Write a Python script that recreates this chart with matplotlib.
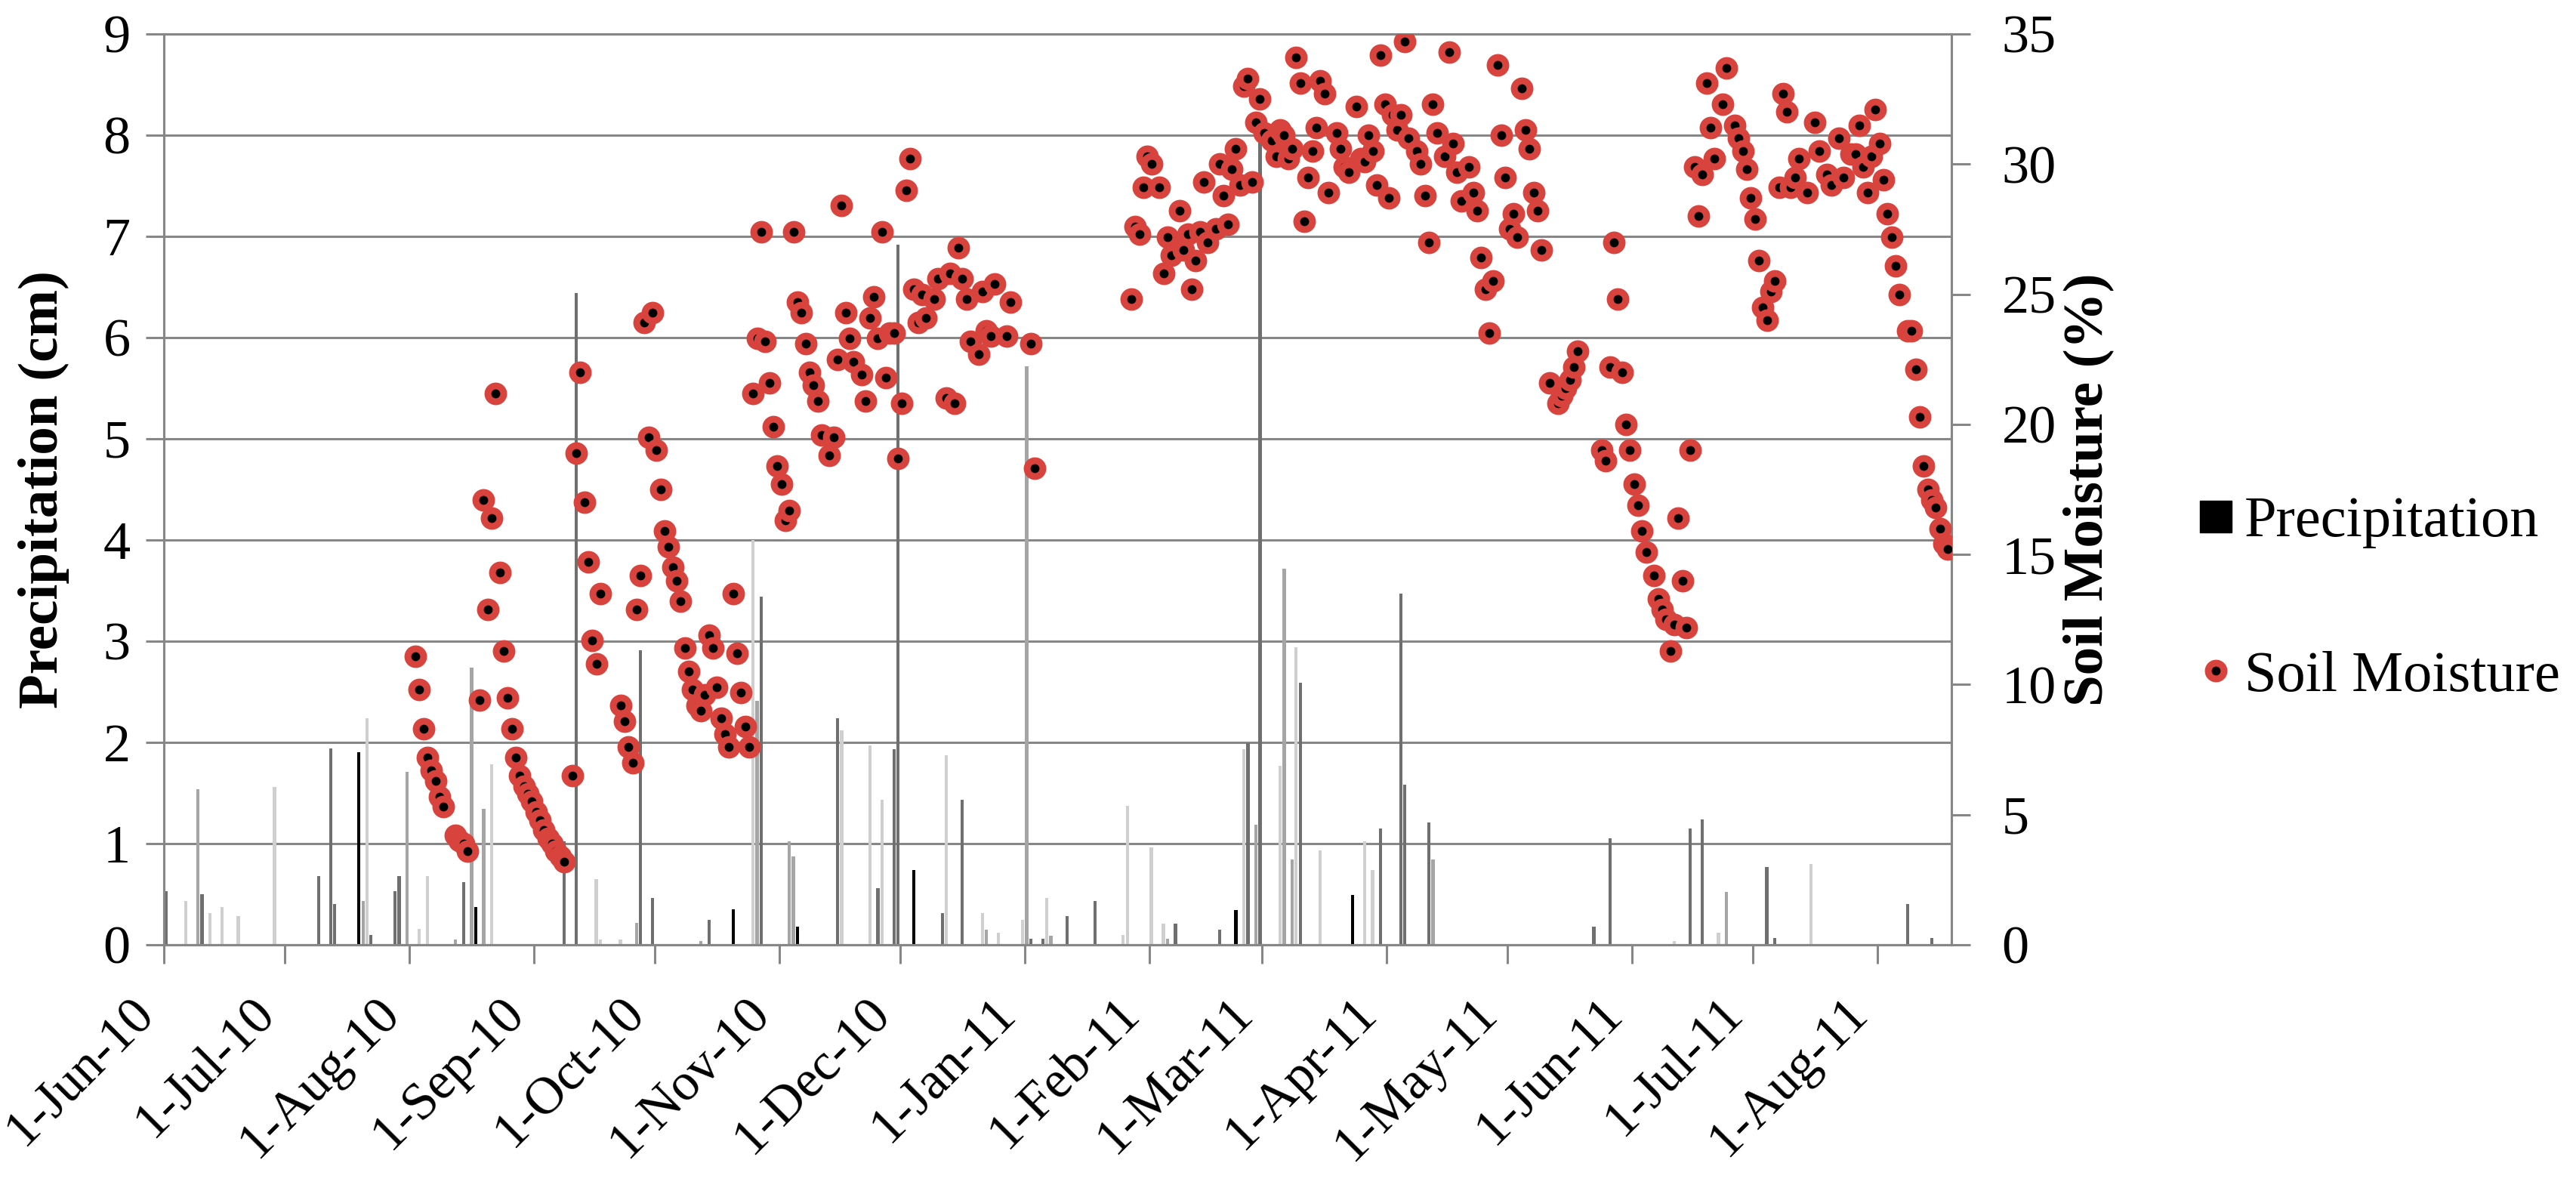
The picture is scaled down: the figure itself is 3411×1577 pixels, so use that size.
import datetime as dt
import numpy as np
import matplotlib
matplotlib.use("Agg")
import matplotlib.pyplot as plt
import matplotlib.dates as mdates
from matplotlib.lines import Line2D

plt.rcParams["font.family"] = ["Liberation Serif", "DejaVu Serif"]

# ---------------- data ----------------
start_date = "2010-06-01"          # day 0 of the record
end_day = 444.4                    # right end of the time axis (days after start)

month_labels = ["1-Jun-10", "1-Jul-10", "1-Aug-10", "1-Sep-10", "1-Oct-10",
                "1-Nov-10", "1-Dec-10", "1-Jan-11", "1-Feb-11", "1-Mar-11",
                "1-Apr-11", "1-May-11", "1-Jun-11", "1-Jul-11", "1-Aug-11"]

# daily precipitation (cm): day offset from start_date, amount
precip_day = [0, 5, 8, 9, 11, 14, 18, 27, 38, 41, 42, 48, 49, 50, 51, 57, 58, 60,
              63, 65, 72, 74, 76, 77, 79, 81, 99, 102, 107, 108, 113, 117, 118, 121,
              133, 135, 141, 146, 147, 148, 155, 156, 157, 167, 168, 175, 177, 178,
              181, 182, 186, 193, 194, 198, 203, 204, 207, 213, 214, 215, 218, 219,
              220, 224, 231, 238, 239, 245, 248, 249, 251, 262, 266, 268, 269, 271,
              272, 277, 278, 280, 281, 282, 287, 295, 298, 300, 302, 307, 308, 314,
              315, 355, 359, 375, 379, 382, 386, 388, 398, 400, 409, 433, 439]
precip_cm = [0.53, 0.43, 1.54, 0.50, 0.31, 0.37, 0.28, 1.56, 0.68, 1.94, 0.40, 1.90,
             0.43, 2.24, 0.10, 0.53, 0.68, 1.71, 0.16, 0.68, 0.05, 0.62, 2.74, 0.37,
             1.34, 1.78, 1.02, 6.44, 0.65, 0.05, 0.05, 0.22, 2.91, 0.46, 0.04, 0.25,
             0.35, 4.00, 2.41, 3.44, 1.02, 0.87, 0.18, 2.24, 2.12, 1.97, 0.56, 1.43,
             1.93, 6.92, 0.74, 0.31, 1.87, 1.43, 0.31, 0.15, 0.12, 0.25, 5.72, 0.06,
             0.06, 0.46, 0.09, 0.28, 0.43, 0.10, 1.37, 0.96, 0.21, 0.06, 0.21, 0.15,
             0.34, 1.93, 1.99, 1.19, 8.00, 1.77, 3.72, 0.84, 2.94, 2.59, 0.93, 0.49,
             1.02, 0.74, 1.15, 3.47, 1.58, 1.21, 0.84, 0.18, 1.05, 0.04, 1.15, 1.24,
             0.12, 0.52, 0.77, 0.07, 0.80, 0.40, 0.07]

# daily soil moisture (%): day offset from start_date, value
sm_day = [62, 63, 64, 65, 66, 67, 68, 69, 72, 73, 74, 75, 78, 79, 80, 81, 82, 83, 84,
          85, 86, 87, 88, 89, 90, 91, 92, 93, 94, 95, 96, 97, 98, 99, 101, 102, 103,
          104, 105, 106, 107, 108, 113, 114, 115, 116, 117, 118, 119, 120, 121, 122,
          123, 124, 125, 126, 127, 128, 129, 130, 131, 132, 133, 134, 135, 136, 137,
          138, 139, 140, 141, 142, 143, 144, 145, 146, 147, 148, 149, 150, 151, 152,
          153, 154, 155, 156, 157, 158, 159, 160, 161, 162, 163, 165, 166, 167, 168,
          169, 170, 171, 173, 174, 175, 176, 177, 178, 179, 180, 181, 182, 183, 184,
          185, 186, 187, 188, 189, 191, 192, 194, 195, 196, 197, 198, 199, 200, 202,
          203, 204, 205, 206, 209, 210, 215, 216,
          240, 241, 242, 243, 244, 245, 247, 248, 249, 250, 252, 253, 254, 255, 256,
          257, 258, 259, 261, 262, 263, 264, 265, 266, 267, 268, 269, 270, 271, 272,
          273, 275, 276, 277, 278, 279, 280, 281, 282, 283, 284, 285, 286, 287, 288,
          289, 291, 292, 293, 294, 296, 297, 298, 299, 300, 301, 302, 303, 304, 305,
          306, 307, 308, 309, 311, 312, 313, 314, 315, 316, 318, 319, 320, 321, 322,
          324, 325, 326, 327, 328, 329, 330, 331, 332, 333, 334, 335, 336, 337, 338,
          339, 340, 341, 342, 344, 346, 347, 348, 349, 350, 351, 357, 358, 359, 360,
          361, 362, 363, 364, 365, 366, 367, 368, 370, 371, 372, 373, 374, 375, 376,
          377, 378, 379, 380, 381, 382, 383, 384, 385, 387, 388, 390, 391, 392, 393,
          394, 395, 396, 397, 398, 399, 400, 401, 402, 403, 404, 405, 406, 408, 410,
          411, 413, 414, 416, 417, 419, 420, 421, 422, 423, 424, 425, 426, 427, 428,
          429, 430, 431, 433, 434, 435, 436, 437, 438, 439, 440, 441, 442, 443]
sm_pct = [11.1, 9.8, 8.3, 7.2, 6.7, 6.3, 5.7, 5.3, 4.2, 4.0, 3.9, 3.6, 9.4, 17.1, 12.9,
          16.4, 21.2, 14.3, 11.3, 9.5, 8.3, 7.2, 6.5, 6.1, 5.8, 5.5, 5.1, 4.8, 4.4, 4.1,
          3.9, 3.6, 3.4, 3.2, 6.5, 18.9, 22.0, 17.0, 14.7, 11.7, 10.8, 13.5, 9.2, 8.6,
          7.6, 7.0, 12.9, 14.2, 23.9, 19.5, 24.3, 19.0, 17.5, 15.9, 15.3, 14.5, 14.0,
          13.2, 11.4, 10.5, 9.8, 9.2, 9.0, 9.6, 11.9, 11.4, 9.9, 8.7, 8.1, 7.6, 13.5,
          11.2, 9.7, 8.4, 7.6, 21.2, 23.3, 27.4, 23.2, 21.6, 19.9, 18.4, 17.7, 16.3,
          16.7, 27.4, 24.7, 24.3, 23.1, 22.0, 21.5, 20.9, 19.6, 18.8, 19.5, 22.5, 28.4,
          24.3, 23.3, 22.4, 21.9, 20.9, 24.1, 24.9, 23.3, 27.4, 21.8, 23.5, 23.5, 18.7,
          20.8, 29.0, 30.2, 25.2, 23.9, 25.0, 24.1, 24.8, 25.6, 21.0, 25.8, 20.8, 26.8,
          25.6, 24.8, 23.2, 22.7, 25.1, 23.6, 23.4, 25.4, 23.4, 24.7, 23.1, 18.3,
          24.8, 27.6, 27.3, 29.1, 30.3, 30.0, 29.1, 25.8, 27.2, 26.5, 28.2, 26.7, 27.3,
          25.2, 26.3, 27.4, 29.3, 27.0, 27.5, 30.0, 28.8, 27.7, 29.8, 30.6, 29.2, 33.0,
          33.3, 29.3, 31.6, 32.5, 31.2, 30.9, 30.3, 31.3, 31.1, 30.2, 30.6, 34.1, 33.1,
          27.8, 29.5, 30.5, 31.4, 33.2, 32.7, 28.9, 31.2, 30.6, 29.9, 29.7, 32.2, 30.2,
          30.1, 31.1, 30.5, 29.2, 34.2, 32.3, 28.7, 31.9, 31.3, 31.9, 34.7, 31.0, 30.5,
          30.0, 28.8, 27.0, 32.3, 31.2, 30.3, 34.3, 30.8, 29.7, 28.6, 29.9, 28.9, 28.2,
          26.4, 25.2, 23.5, 25.5, 33.8, 31.1, 29.5, 27.5, 28.1, 27.2, 32.9, 31.3, 30.6,
          28.9, 28.2, 26.7, 21.6, 20.8, 21.1, 21.4, 21.7, 22.2, 22.8, 19.0, 18.6, 22.2,
          27.0, 24.8, 22.0, 20.0, 19.0, 17.7, 16.9, 15.9, 15.1, 14.2, 13.3, 12.9, 12.5,
          11.3, 12.3, 16.4, 14.0, 12.2, 19.0, 29.9, 28.0, 29.6, 33.1, 31.4, 30.2, 32.3,
          33.7, 31.5, 31.0, 30.5, 29.8, 28.7, 27.9, 26.3, 24.5, 24.0, 25.1, 25.5, 29.1,
          32.7, 32.0, 29.1, 29.5, 30.2, 28.9, 31.6, 30.5, 29.6, 29.2, 31.0, 29.5, 30.4,
          30.4, 31.5, 29.9, 28.9, 30.3, 32.1, 30.8, 29.4, 28.1, 27.2, 26.1, 25.0, 23.6,
          23.6, 22.1, 20.3, 18.4, 17.5, 17.1, 16.8, 16.0, 15.4, 15.2]

# ---------------- styles ----------------
# rendered grey level of each (anti-aliased) precipitation column in the original
precip_shade = list("dlmdllllddd" "kmlddd" "mllmdmkml" "dd" "lllmdd" "mdk" "lmd"
                    "mmkdl" "ldldd" "kdldlmllmddlmdd" "llllmdd" "kldmd" "lmmld"
                    "lk" "llddddm" "dd" "ldd" "lmdd" "ldd")
shade_color = {"k": "#000000", "d": "#6f6f6f", "m": "#a5a5a5", "l": "#cfcfcf"}
grid_col = "#878787"
red = "#d8433d"

# ---------------- figure ----------------
W, H = 3411, 1577
fig = plt.figure(figsize=(W / 100, H / 100), dpi=100)
ax = fig.add_axes([217 / W, 1 - 1251 / H, (2584 - 217) / W, (1251 - 45) / H])
ax2 = ax.twinx()

t0 = mdates.date2num(dt.datetime.strptime(start_date, "%Y-%m-%d"))
px = t0 + np.asarray(precip_day, float) + 0.5
sx = t0 + np.asarray(sm_day, float) + 0.5

colors = [shade_color[c] for c in precip_shade[:len(precip_day)]]
colors += ["#6f6f6f"] * (len(precip_day) - len(colors))
ax.bar(px, precip_cm, width=0.8, color=colors, linewidth=0, zorder=2)

ax2.plot(sx, sm_pct, linestyle="none", marker="o", markersize=15,
         markerfacecolor="black", markeredgecolor=red, markeredgewidth=6.5,
         zorder=3)

# axes limits & ticks
ax.set_xlim(t0, t0 + end_day)
ax.set_ylim(0, 9)
ax2.set_ylim(0, 35)
ax.set_yticks(np.arange(0, 10, 1))
ax2.set_yticks(np.arange(0, 36, 5))
tick_pos = [mdates.date2num(dt.datetime.strptime(s, "%d-%b-%y")) for s in month_labels]
ax.set_xticks(tick_pos)
ax.set_xticklabels(month_labels, rotation=45, ha="right")

ax.yaxis.grid(True, color=grid_col, linewidth=2.2, zorder=0)
ax.set_axisbelow(True)

for a in (ax, ax2):
    for side in ("left", "right", "top", "bottom"):
        a.spines[side].set_color(grid_col)
        a.spines[side].set_linewidth(2.2)

ax.tick_params(axis="y", direction="out", length=17, width=2.2, color=grid_col,
               labelsize=52, pad=15)
ax.tick_params(axis="x", direction="out", length=18, width=2.2, color=grid_col,
               labelsize=50, pad=24)
ax2.tick_params(axis="y", direction="out", length=18, width=2.2, color=grid_col,
                labelsize=52, pad=30)

ax.set_ylabel("Precipitation (cm)", fontsize=54, fontweight="bold")
ax.yaxis.set_label_coords(-0.0528, 0.5)
ax2.set_ylabel("Soil Moisture (%)", fontsize=54, fontweight="bold")
ax2.yaxis.set_label_coords(1.062, 0.5)

handles = [Line2D([], [], linestyle="none", marker="s", markersize=30,
                  markerfacecolor="black", markeredgecolor="black"),
           Line2D([], [], linestyle="none", marker="o", markersize=15,
                  markerfacecolor="black", markeredgecolor=red, markeredgewidth=6.5)]
fig.legend(handles, ["Precipitation", "Soil Moisture"], loc="center left",
           bbox_to_anchor=(0.8512, 0.4965), frameon=False, fontsize=55,
           labelspacing=1.77, handlelength=0.8, handletextpad=0.1,
           borderpad=0, borderaxespad=0)

fig.savefig("out.png", dpi=100)
